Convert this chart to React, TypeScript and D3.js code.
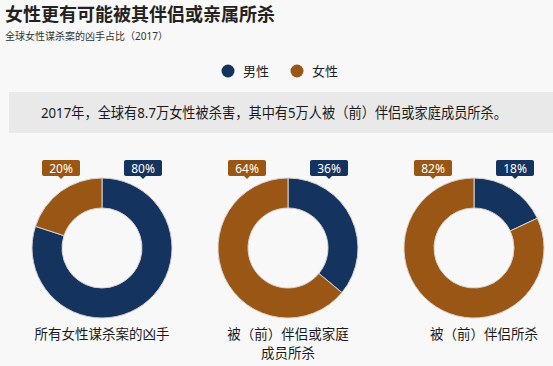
import React, { useEffect, useRef } from "react";
import * as d3 from "d3";

const seriesNames = ["男性", "女性"];
const seriesColors = ["#15335f", "#9a5614"];
const categories = [["所有女性谋杀案的凶手"], ["被（前）伴侣或家庭", "成员所杀"], ["被（前）伴侣所杀"]];
const maleShare = [80, 36, 18];
const femaleShare = [20, 64, 82];

const title = "女性更有可能被其伴侣或亲属所杀";
const subtitle = "全球女性谋杀案的凶手占比（2017）";
const banner = "2017年，全球有8.7万女性被杀害，其中有5万人被（前）伴侣或家庭成员所杀。";

const W = 553;
const H = 366;
const FONT = "Noto Sans, Noto Sans CJK SC, sans-serif";

const App = () => {
  const svgRef = useRef<SVGSVGElement | null>(null);

  useEffect(() => {
    const svg = d3.select(svgRef.current);
    svg.selectAll("*").remove();

    svg.append("rect").attr("width", W).attr("height", H).attr("fill", "#f8f8f8");

    const root = svg.append("g").attr("font-family", FONT);

    root
      .append("text")
      .attr("x", 5)
      .attr("y", 21)
      .attr("font-size", 18)
      .attr("font-weight", 700)
      .attr("fill", "#222")
      .text(title);

    root
      .append("text")
      .attr("x", 5)
      .attr("y", 40)
      .attr("font-size", 10)
      .attr("fill", "#333")
      .text(subtitle);

    // legend
    const legendX = [228, 297];
    const legend = root
      .append("g")
      .selectAll("g")
      .data(seriesNames)
      .enter()
      .append("g")
      .attr("transform", (_, i) => `translate(${legendX[i]}, 71)`);
    legend.append("circle").attr("r", 6.5).attr("fill", (_, i) => seriesColors[i]);
    legend
      .append("text")
      .attr("x", 15)
      .attr("y", 5)
      .attr("font-size", 13)
      .attr("fill", "#222")
      .text((d) => d);

    // banner
    root
      .append("rect")
      .attr("x", 9)
      .attr("y", 92)
      .attr("width", W - 9)
      .attr("height", 41)
      .attr("fill", "#e9e9e9");
    root
      .append("text")
      .attr("x", 274)
      .attr("y", 118)
      .attr("text-anchor", "middle")
      .attr("font-size", 14.5)
      .attr("fill", "#1a1a1a")
      .attr("textLength", 466)
      .attr("lengthAdjust", "spacingAndGlyphs")
      .text(banner);

    // donuts
    const centers = d3.scalePoint<number>().domain([0, 1, 2]).range([102, 474]);
    const cy = 248;
    const outer = 70;
    const inner = 40;
    const pie = d3.pie<number>().sort(null).value((d) => d);
    const arc = d3.arc<d3.PieArcDatum<number>>().innerRadius(inner).outerRadius(outer);

    categories.forEach((lines, i) => {
      const cx = centers(i) as number;
      const g = root.append("g").attr("transform", `translate(${cx}, ${cy})`);
      const values = [maleShare[i], femaleShare[i]];
      g.selectAll("path")
        .data(pie(values))
        .enter()
        .append("path")
        .attr("d", (d) => arc(d) || "")
        .attr("fill", (_, j) => seriesColors[j])
        .attr("stroke", "#d9d3cc")
        .attr("stroke-width", 1);

      // value tags: female left, male right
      const tags = [
        { v: maleShare[i], dx: 41, c: seriesColors[0] },
        { v: femaleShare[i], dx: -41, c: seriesColors[1] },
      ];
      tags.forEach((t) => {
        const tg = g.append("g").attr("transform", `translate(${t.dx}, ${168 - cy})`);
        tg.append("rect")
          .attr("x", -19)
          .attr("y", -8)
          .attr("width", 38)
          .attr("height", 16)
          .attr("rx", 2)
          .attr("fill", t.c);
        tg.append("path").attr("d", "M-3,8 L3,8 L0,11 Z").attr("fill", t.c);
        tg.append("text")
          .attr("text-anchor", "middle")
          .attr("y", 4.5)
          .attr("font-size", 12)
          .attr("fill", "#fff")
          .text(`${t.v}%`);
      });

      lines.forEach((line, k) => {
        root
          .append("text")
          .attr("x", cx + (i === 2 ? 10 : 0))
          .attr("y", 339 + k * 19)
          .attr("text-anchor", "middle")
          .attr("font-size", 13.5)
          .attr("fill", "#1a1a1a")
          .text(line);
      });
    });
  }, []);

  return (
    <svg
      ref={svgRef}
      width={W}
      height={H}
      style={{ position: "absolute", left: 0, top: 0 }}
    />
  );
};

export default App;
